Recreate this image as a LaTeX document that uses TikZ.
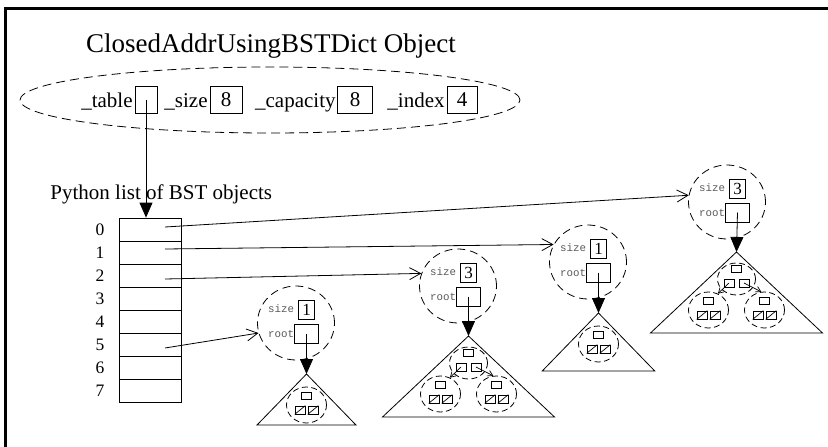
\documentclass[tikz,border=0pt]{standalone}
\usepackage{fontspec}
\setmainfont{Liberation Serif}
\setmonofont{Liberation Mono}
\usetikzlibrary{arrows.meta,shapes.geometric}
\definecolor{lblgray}{gray}{0.35}
\begin{document}
\begin{tikzpicture}[x=1pt,y=-1pt,line width=0.8pt,
  bigell/.style={draw,ellipse,dash pattern=on 9pt off 5pt,inner sep=0pt},
  dashell/.style={draw,ellipse,dash pattern=on 8pt off 5pt,inner sep=0pt},
  smallell/.style={draw,ellipse,dash pattern=on 6pt off 3.5pt,inner sep=0pt},
  fld/.style={font=\fontsize{21}{24}\selectfont,inner sep=0pt},
  fbox/.style={draw,inner sep=0pt,minimum height=27pt,font=\fontsize{21}{24}\selectfont},
  cell/.style={draw,minimum width=62pt,minimum height=23pt,inner sep=0pt},
  idx/.style={font=\fontsize{17.5}{20}\selectfont,inner sep=0pt},
  numbox/.style={draw,inner sep=0pt,minimum width=16pt,minimum height=19pt,font=\fontsize{17}{19}\selectfont},
  rootbox/.style={draw,inner sep=0pt,minimum width=24pt,minimum height=19pt},
  lbl/.style={font=\ttfamily\fontsize{10.8}{12}\selectfont,text=lblgray,inner sep=0pt},
  tbox/.style={draw,line width=0.7pt,inner sep=0pt,minimum width=10pt,minimum height=7pt},
  nbox/.style={draw,line width=0.7pt,inner sep=0pt,minimum width=10pt,minimum height=8pt},
  big/.style={-{Triangle[length=15pt,width=13pt]}},
  ptr/.style={-{Straight Barb[length=11pt,width=12pt]}},
  cptr/.style={line width=0.7pt,-{Straight Barb[length=5pt,width=6pt]}},
  pics/bstobj/.style={code={
    \node[dashell,minimum width=77pt,minimum height=74pt] (-c) at (0,0) {};
    \node[numbox] (-s) at (10.5,-13) {#1};
    \node[lbl,anchor=east] (-sl) at (-1.5,-14) {size};
    \node[rootbox] (-r) at (10.5,10.5) {};
    \node[lbl,anchor=east] (-rl) at (-1.5,10.5) {root};
  }},
  pics/leafnode/.style={code={
    \node[smallell,minimum width=40pt,minimum height=36pt] (-e) at (0,0) {};
    \node[tbox] (-k) at (0,-9) {};
    \node[nbox] (-a) at (-6.5,5) {};
    \node[nbox] (-b) at (6.5,5) {};
    \draw[line width=0.7pt] (-a.south west) -- (-a.north east);
    \draw[line width=0.7pt] (-b.south west) -- (-b.north east);
  }},
  pics/smalltree/.style={code={
    \coordinate (-apex) at (0,0);
    \coordinate (-bl) at ({-0.97*#1},#1);
    \coordinate (-br) at ({0.97*#1},#1);
    \draw (-apex) -- (-bl) -- (-br) -- cycle;
    \pic (-n) at (0,31) {leafnode};
  }},
  pics/bigtree/.style={code={
    \coordinate (-apex) at (0,0);
    \coordinate (-bl) at (-86,81);
    \coordinate (-br) at (86,81);
    \draw (-apex) -- (-bl) -- (-br) -- cycle;
    \node[smallell,minimum width=38pt,minimum height=32pt] (-re) at (0,27) {};
    \node[tbox] (-rk) at (0,17) {};
    \node[nbox] (-ra) at (-7.5,31) {};
    \node[nbox] (-rb) at (7.5,31) {};
    \pic (-L) at (-28,58) {leafnode};
    \pic (-R) at (28,58) {leafnode};
    \draw[cptr] (-ra.center) -- (-L-e.60);
    \draw[cptr] (-rb.center) -- (-R-e.100);
  }}
]
\useasboundingbox (0,0) rectangle (828,447);
% frame
\coordinate (fbl) at (5.5,447);
\coordinate (ftl) at (5.5,8.5);
\coordinate (ftr) at (828,8.5);
\draw[line width=3pt] (fbl) -- (ftl) -- (ftr);

% object
\node[font=\fontsize{27}{30}\selectfont,inner sep=0pt] (title) at (271,46) {ClosedAddrUsingBSTDict Object};
\node[bigell,minimum width=500pt,minimum height=66pt] (obj) at (270,100) {};
\node[fld,anchor=base east] (tablel) at (133,107) {\_table};
\node[fbox,minimum width=22pt] (tableb) at (146,100) {};
\node[fld,anchor=base east] (sizel) at (208,107) {\_size};
\node[fbox,minimum width=32pt] (sizeb) at (226,100) {8};
\node[fld,anchor=base east] (capl) at (336,107) {\_capacity};
\node[fbox,minimum width=35pt] (capb) at (355,100) {8};
\node[fld,anchor=base east] (idxl) at (445,107) {\_index};
\node[fbox,minimum width=30pt] (idxb) at (462,100) {4};

% list
\node[fld,anchor=base west] (pylbl) at (50,199) {Python list of BST objects};
\foreach \i in {0,...,7}{
  \node[cell] (c\i) at (150,{229.5+23*\i}) {};
  \node[idx] (i\i) at (100,{229.5+23*\i}) {\i};
}
\draw[big] (tableb.center) -- (tableb.center |- c0.north);

% BST objects
\pic (o1) at (296,323) {bstobj=1};
\pic (o2) at (458,286) {bstobj=3};
\pic (o3) at (588,262) {bstobj=1};
\pic (o4) at (727,202) {bstobj=3};

\pic (tr1) at (306.5,374) {smalltree=51};
\pic (tr2) at (468.5,336) {bigtree};
\pic (tr3) at (598.5,313) {smalltree=58};
\pic (tr4) at (736.5,252) {bigtree};

\draw[big] (o1-r.center) -- (tr1-apex);
\draw[big] (o2-r.center) -- (tr2-apex);
\draw[big] (o3-r.center) -- (tr3-apex);
\draw[big] (o4-r.center) -- (tr4-apex);

% pointers
\coordinate (p0) at (165,227);
\coordinate (p1) at (165,249);
\coordinate (p2) at (165,279);
\coordinate (p5) at (165,348);
\draw[ptr] (p0) -- (o4-c.170);
\draw[ptr] (p1) -- (o3-c.153);
\draw[ptr] (p2) -- (o2-c.161);
\draw[ptr] (p5) -- (o1-c.195);
\end{tikzpicture}
\end{document}
